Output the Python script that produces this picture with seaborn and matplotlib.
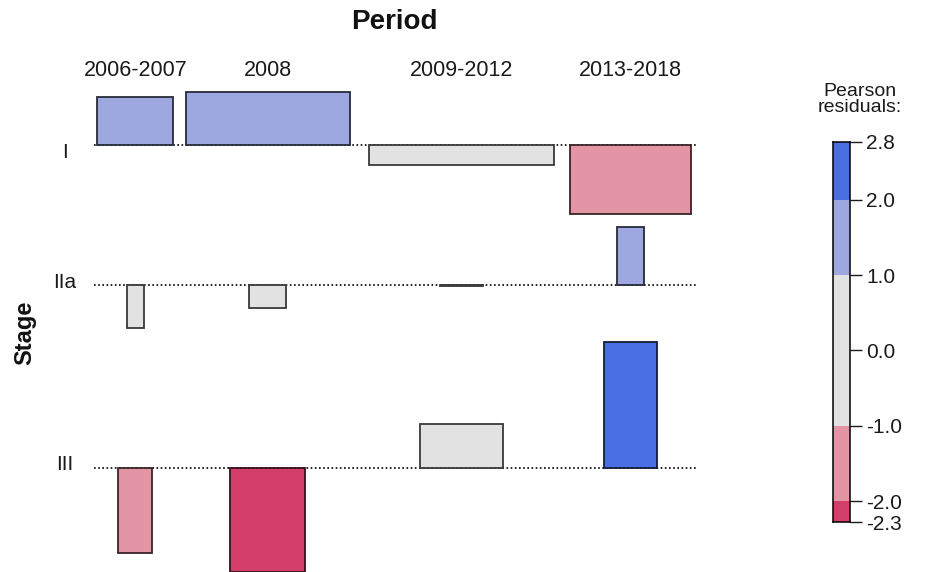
import numpy as np
import matplotlib
matplotlib.use("Agg")
import matplotlib.pyplot as plt
import seaborn as sns
from matplotlib.colors import to_rgb

# ---------------- data ----------------
periods = ["2006-2007", "2008", "2009-2012", "2013-2018"]
stages = ["I", "IIa", "III"]

# Pearson residuals per stage (row) and period (column)
residuals_I = [1.04, 1.16, -0.43, -1.50]
residuals_IIa = [-0.93, -0.50, -0.02, 1.27]
residuals_III = [-1.85, -2.28, 0.96, 2.77]

# box widths ~ sqrt(expected counts), arbitrary units
sqrt_exp_I = [76.0, 164.5, 184.5, 120.6]
sqrt_exp_IIa = [17.0, 37.0, 42.5, 26.5]
sqrt_exp_III = [34.0, 75.0, 83.0, 53.0]

legend_breaks = [2.77, 2.0, 1.0, 0.0, -1.0, -2.0, -2.28]

# ---------------- style ----------------
sns.set_theme(style="white")
plt.rcParams["font.family"] = ["Liberation Sans", "DejaVu Sans"]

DARK_BLUE = "#4A6FE3"
LIGHT_BLUE = "#9DA8E0"
GRAY = "#E2E2E2"
LIGHT_RED = "#E495A5"
DARK_RED = "#D33F6A"


def shade(r):
    if r > 2:
        return DARK_BLUE
    if r > 1:
        return LIGHT_BLUE
    if r >= -1:
        return GRAY
    if r >= -2:
        return LIGHT_RED
    return DARK_RED


def darken(c, f=0.25):
    return tuple(v * f for v in to_rgb(c))


res = np.array([residuals_I, residuals_IIa, residuals_III])
wid = np.array([sqrt_exp_I, sqrt_exp_IIa, sqrt_exp_III])

# ---------------- layout ----------------
W, H = 927, 572
PX_PER_UNIT = 45.7      # pixels per residual unit
LEFT_PX = 97.5          # pixel x of first column's left edge
TOP_PX = 92.0           # pixel y of first row's top
X_GAPS = [12.2, 19.2, 16.1]   # gaps between columns (width units)
Y_GAP = 0.30            # gap between rows (residual units)

fig = plt.figure(figsize=(W / 100, H / 100), dpi=100)
ax = fig.add_axes([0, 0, 1, 1])
ax.set_xlim(-LEFT_PX, W - LEFT_PX)
ax.set_ylim(-(H - TOP_PX) / PX_PER_UNIT, TOP_PX / PX_PER_UNIT)
ax.axis("off")

col_w = wid.max(axis=0)
col_left = np.concatenate([[0], np.cumsum(col_w[:-1] + np.array(X_GAPS))])
col_center = col_left + col_w / 2
total_w = col_left[-1] + col_w[-1]

baselines = []
cursor = 0.0
for i in range(len(stages)):
    up = max(res[i].max(), 0)
    down = max(-res[i].min(), 0)
    base = cursor - up
    baselines.append(base)
    cursor = base - down - Y_GAP

for i, stage in enumerate(stages):
    base = baselines[i]
    ax.plot([-3, total_w + 5], [base, base], color="black", lw=1.2,
            ls=(0, (1, 1.5)), zorder=2)
    fills = [shade(r) for r in res[i]]
    edges = [darken(c) for c in fills]
    ax.bar(col_center, res[i], width=wid[i], bottom=base, color=fills,
           edgecolor=edges, linewidth=1.3, zorder=3)
    off = 0.17 if i == 0 else -0.07
    ax.text(-32.5, base - off, stage, ha="center", va="center",
            fontsize=15, color="#1a1a1a")

for c, p in zip(col_center, periods):
    ax.text(c, (TOP_PX - 70) / PX_PER_UNIT, p, ha="center", va="center",
            fontsize=15.5, color="#1a1a1a")

ax.text(total_w / 2, (TOP_PX - 22) / PX_PER_UNIT, "Period", ha="center",
        va="center", fontsize=20, fontweight="bold", color="#111111")
ax.text(-72.5, (TOP_PX - 333) / PX_PER_UNIT, "Stage", ha="center",
        va="center", rotation=90, fontsize=17, fontweight="bold",
        color="#111111")

# ---------------- legend ----------------
bar_top, bar_bot = 141.7, 522.3
lg = fig.add_axes([833 / W, 1 - bar_bot / H, 17 / W, (bar_bot - bar_top) / H])
lo, hi = min(legend_breaks), max(legend_breaks)
lg.set_ylim(lo, hi)
lg.set_xlim(0, 1)
band_edges = [lo, -2.0, -1.0, 1.0, 2.0, hi]
for a, b in zip(band_edges[:-1], band_edges[1:]):
    lg.bar(0.5, b - a, bottom=a, width=1.0, color=shade((a + b) / 2),
           linewidth=0)
lg.set_xticks([])
lg.yaxis.tick_right()
lg.set_yticks(legend_breaks)
lg.set_yticklabels([f"{v:.1f}" for v in legend_breaks])
lg.tick_params(axis="y", length=8.6, width=1.0, pad=3, labelsize=15,
               colors="#1a1a1a", right=True, left=False)
for s in lg.spines.values():
    s.set_visible(True)
    s.set_color("black")
    s.set_linewidth(1.1)

fig.text(860 / W, 1 - 83 / H, "Pearson\nresiduals:", ha="center", va="top",
         fontsize=14, linespacing=0.95, color="#1a1a1a",
         multialignment="center")

fig.savefig("out.png", dpi=100)
